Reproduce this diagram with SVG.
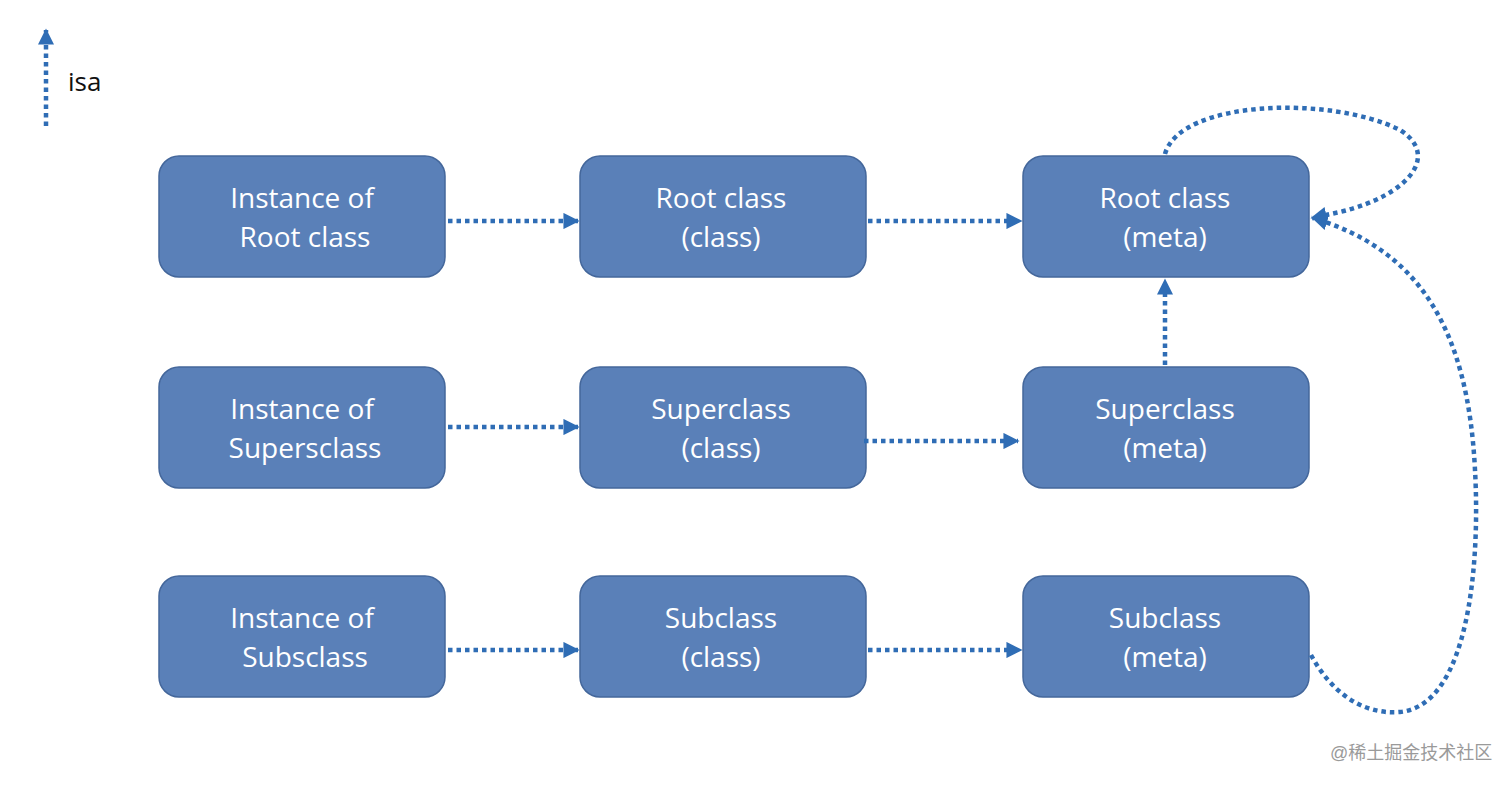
<svg xmlns="http://www.w3.org/2000/svg" width="1512" height="786" viewBox="0 0 1512 786">
<style>
.box{fill:#5a80b8;stroke:#44679b;stroke-width:1.5}
.t{font-family:"Open Sans","Liberation Sans",sans-serif;font-size:28px;fill:#ffffff;text-anchor:middle}
.c{fill:none;stroke:#2f6db5;stroke-width:4.5;stroke-dasharray:4.5 4}
</style>
<defs>
<marker id="ah" viewBox="0 0 10 10" refX="9" refY="5" markerWidth="3.6" markerHeight="3.6" markerUnits="strokeWidth" orient="auto">
<path d="M0,0 L10,5 L0,10 z" fill="#2f6db5"/>
</marker>
</defs>
<rect width="1512" height="786" fill="#ffffff"/>
<g id="legend">
<line class="c" x1="46" y1="126" x2="46" y2="30" marker-end="url(#ah)" stroke="#4a7cc0"/>
<text x="68" y="91" font-family="'Open Sans','Liberation Sans',sans-serif" font-size="26" fill="#111">isa</text>
</g>
<g id="n1"><rect class="box" x="159" y="156" width="286" height="121" rx="20"/><text class="t" x="302" y="208">Instance of</text><text class="t" x="305" y="247">Root class</text></g>
<g id="n2"><rect class="box" x="580" y="156" width="286" height="121" rx="20"/><text class="t" x="721" y="208">Root class</text><text class="t" x="721" y="247">(class)</text></g>
<g id="n3"><rect class="box" x="1023" y="156" width="286" height="121" rx="20"/><text class="t" x="1165" y="208">Root class</text><text class="t" x="1165" y="247">(meta)</text></g>
<g id="n4"><rect class="box" x="159" y="367" width="286" height="121" rx="20"/><text class="t" x="302" y="419">Instance of</text><text class="t" x="305" y="458">Supersclass</text></g>
<g id="n5"><rect class="box" x="580" y="367" width="286" height="121" rx="20"/><text class="t" x="721" y="419">Superclass</text><text class="t" x="721" y="458">(class)</text></g>
<g id="n6"><rect class="box" x="1023" y="367" width="286" height="121" rx="20"/><text class="t" x="1165" y="419">Superclass</text><text class="t" x="1165" y="458">(meta)</text></g>
<g id="n7"><rect class="box" x="159" y="576" width="286" height="121" rx="20"/><text class="t" x="302" y="628">Instance of</text><text class="t" x="305" y="667">Subsclass</text></g>
<g id="n8"><rect class="box" x="580" y="576" width="286" height="121" rx="20"/><text class="t" x="721" y="628">Subclass</text><text class="t" x="721" y="667">(class)</text></g>
<g id="n9"><rect class="box" x="1023" y="576" width="286" height="121" rx="20"/><text class="t" x="1165" y="628">Subclass</text><text class="t" x="1165" y="667">(meta)</text></g>
<g id="connectors">
<line class="c" x1="448" y1="221" x2="578" y2="221" marker-end="url(#ah)"/>
<line class="c" x1="868" y1="221" x2="1021" y2="221" marker-end="url(#ah)"/>
<line class="c" x1="448" y1="427" x2="578" y2="427" marker-end="url(#ah)"/>
<line class="c" x1="864" y1="441" x2="1018" y2="441" marker-end="url(#ah)"/>
<line class="c" x1="448" y1="650" x2="578" y2="650" marker-end="url(#ah)"/>
<line class="c" x1="868" y1="650" x2="1021" y2="650" marker-end="url(#ah)"/>
<line class="c" x1="1165" y1="365" x2="1165" y2="280" marker-end="url(#ah)"/>
<path class="c" d="M1165,154 C1180,100 1330,95 1400,130 C1440,155 1410,195 1340,212 L1312,218" marker-end="url(#ah)"/>
<path class="c" d="M1311,655 C1330,690 1360,715 1400,712 C1470,705 1480,560 1475,470 C1468,330 1420,250 1313,218" marker-end="url(#ah)"/>
</g>
<text x="1330" y="759" font-family="'Liberation Sans','Noto Sans CJK SC',sans-serif" font-size="18" fill="#9a9a9a">@稀土掘金技术社区</text>
</svg>
